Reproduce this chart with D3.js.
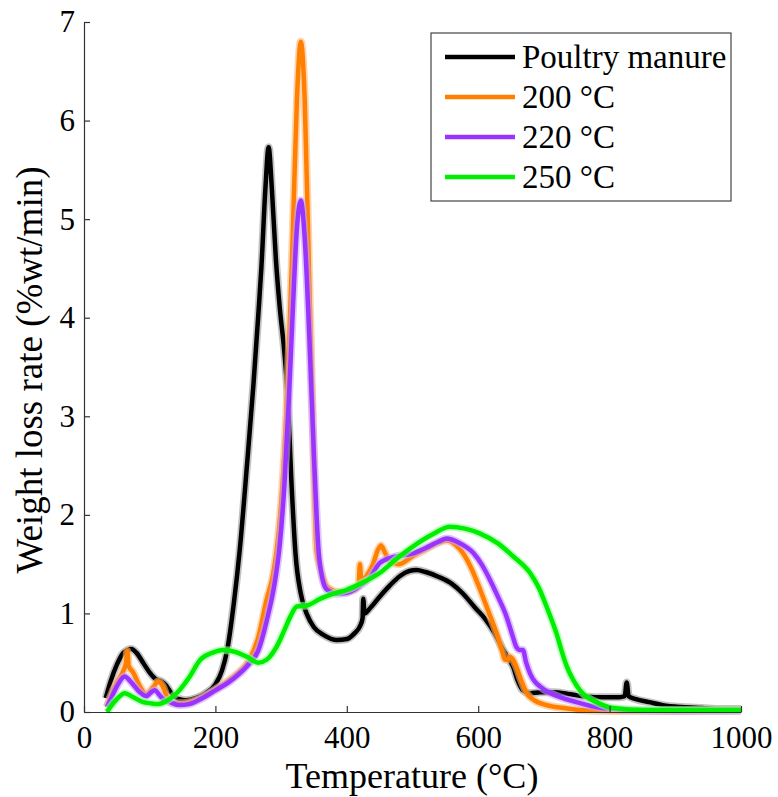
<!DOCTYPE html>
<html>
<head>
<meta charset="utf-8">
<script src="https://cdn.jsdelivr.net/npm/d3@7"></script>
<style>
  body { margin: 0; background: #fff; }
  text { font-family: "Liberation Serif", "Times New Roman", serif; fill: #000; }
</style>
</head>
<body>
<svg width="778" height="797"></svg>
<script>
// Temperature (°C) and weight loss rate (%wt/min)
const poultryT = [33, 40, 50, 60, 72, 80, 90, 100, 110, 118, 125, 135, 145, 155, 170, 185, 200, 210, 218, 228, 237, 248, 258, 265, 270, 276, 281, 286, 292, 298, 305, 310, 316, 322, 330, 340, 350, 365, 385, 400, 412, 420, 424, 425, 427, 435, 450, 465, 481, 495, 506, 520, 540, 560, 577, 595, 610, 625, 638, 648, 653, 660, 668, 679, 695, 714, 740, 760, 780, 800, 815, 823, 826, 829, 840, 860, 881, 910, 940, 970, 1000];
const poultryV = [0.14, 0.3, 0.48, 0.6, 0.64, 0.6, 0.5, 0.4, 0.33, 0.31, 0.27, 0.17, 0.13, 0.12, 0.14, 0.19, 0.28, 0.42, 0.63, 1.1, 1.64, 2.5, 3.33, 4.0, 4.51, 5.3, 5.73, 5.3, 4.6, 4.1, 3.65, 3.2, 2.3, 1.6, 1.2, 0.98, 0.86, 0.78, 0.73, 0.74, 0.8, 0.87, 0.95, 1.15, 1.0, 1.05, 1.17, 1.28, 1.38, 1.43, 1.44, 1.42, 1.37, 1.3, 1.2, 1.06, 0.95, 0.8, 0.63, 0.52, 0.46, 0.32, 0.22, 0.19, 0.2, 0.2, 0.18, 0.16, 0.15, 0.15, 0.15, 0.16, 0.3, 0.16, 0.13, 0.1, 0.07, 0.05, 0.04, 0.03, 0.03];

const t200T = [35, 40, 50, 60, 64, 66, 68, 75, 85, 95, 105, 113, 120, 127, 135, 150, 170, 185, 200, 220, 235, 250, 265, 278, 288, 296, 303, 311, 318, 324, 330, 336, 342, 348, 354, 360, 367, 374, 385, 400, 412, 418, 420, 422, 430, 440, 447, 452, 458, 466, 480, 500, 520, 540, 552, 565, 577, 590, 603, 615, 628, 636, 641, 645, 648, 652, 658, 665, 674, 685, 704, 730, 755, 800, 900, 990, 1000];
const t200V = [0.05, 0.15, 0.3, 0.42, 0.5, 0.62, 0.47, 0.4, 0.26, 0.18, 0.25, 0.31, 0.26, 0.14, 0.09, 0.09, 0.12, 0.17, 0.23, 0.32, 0.4, 0.51, 0.75, 1.14, 1.4, 1.8, 2.4, 3.5, 4.9, 6.2, 6.8, 6.2, 4.6, 3.0, 1.64, 1.45, 1.3, 1.25, 1.22, 1.22, 1.24, 1.3, 1.5, 1.33, 1.38, 1.5, 1.64, 1.69, 1.62, 1.52, 1.5, 1.58, 1.65, 1.72, 1.74, 1.7, 1.61, 1.45, 1.24, 1.03, 0.8, 0.63, 0.53, 0.53, 0.56, 0.54, 0.46, 0.33, 0.19, 0.12, 0.07, 0.04, 0.02, 0.01, 0.01, 0.015, 0.03];

const t220T = [35, 40, 50, 62, 72, 85, 95, 102, 108, 115, 122, 131, 145, 160, 180, 200, 220, 235, 250, 265, 280, 290, 298, 305, 312, 318, 324, 330, 336, 343, 350, 357, 363, 370, 385, 400, 420, 435, 450, 470, 501, 525, 540, 552, 570, 593, 605, 618, 630, 643, 652, 658, 663, 668, 673, 679, 686, 694, 710, 729, 755, 780, 830, 900, 1000];
const t220V = [0.05, 0.12, 0.26, 0.36, 0.3, 0.2, 0.16, 0.2, 0.22, 0.17, 0.12, 0.1, 0.07, 0.08, 0.14, 0.22, 0.3, 0.38, 0.48, 0.62, 0.98, 1.3, 1.7, 2.3, 3.2, 4.1, 4.9, 5.19, 4.8, 3.8, 2.6, 1.64, 1.35, 1.24, 1.2, 1.21, 1.28, 1.36, 1.51, 1.57, 1.61, 1.68, 1.73, 1.76, 1.72, 1.61, 1.5, 1.34, 1.17, 0.97, 0.78, 0.66, 0.63, 0.63, 0.5, 0.39, 0.31, 0.26, 0.19, 0.14, 0.09, 0.05, 0.02, 0.01, 0.01];

const t250T = [35, 40, 50, 62, 75, 90, 100, 111, 125, 141, 160, 177, 195, 212, 230, 248, 265, 278, 293, 305, 315, 324, 339, 360, 380, 400, 420, 450, 475, 501, 530, 557, 580, 603, 630, 653, 679, 693, 704, 712, 719, 727, 735, 745, 755, 768, 780, 805, 850, 1000];
const t250V = [0.0, 0.05, 0.13, 0.19, 0.15, 0.1, 0.09, 0.08, 0.11, 0.19, 0.35, 0.53, 0.6, 0.63, 0.61, 0.56, 0.5, 0.53, 0.66, 0.83, 0.98, 1.07, 1.08, 1.15, 1.2, 1.24, 1.3, 1.41, 1.55, 1.68, 1.8, 1.88, 1.86, 1.81, 1.71, 1.58, 1.41, 1.25, 1.07, 0.93, 0.8, 0.62, 0.46, 0.32, 0.22, 0.14, 0.1, 0.04, 0.02, 0.02];

const seriesNames = ["Poultry manure", "200 °C", "220 °C", "250 °C"];
const seriesColors = ["#000000", "#ff8000", "#9933ff", "#00ee00"];
const bandColors = ["#999999", "#ffb877", "#c9a0ff", "#99ff99"];
const xTicks = [0, 200, 400, 600, 800, 1000];
const yTicks = [0, 1, 2, 3, 4, 5, 6, 7];

const series = [
  { name: seriesNames[0], T: poultryT, V: poultryV },
  { name: seriesNames[1], T: t200T, V: t200V },
  { name: seriesNames[2], T: t220T, V: t220V },
  { name: seriesNames[3], T: t250T, V: t250V }
];

const svg = d3.select("svg");

const x = d3.scaleLinear().domain([0, 1000]).range([84, 741]);
const y = d3.scaleLinear().domain([0, 7]).range([712, 22]);

const line = d3.line()
  .x(d => x(d[0]))
  .y(d => y(d[1]))
  .curve(d3.curveMonotoneX);

const plot = svg.append("g");

series.forEach((s, i) => {
  const pts = s.T.map((t, j) => [t, s.V[j]]);
  // light error band behind the mean curve
  plot.append("path")
    .datum(pts)
    .attr("d", line)
    .attr("fill", "none")
    .attr("stroke", bandColors[i])
    .attr("stroke-width", 8)
    .attr("stroke-opacity", 0.6)
    .attr("stroke-linejoin", "round");
  plot.append("path")
    .datum(pts)
    .attr("d", line)
    .attr("fill", "none")
    .attr("stroke", seriesColors[i])
    .attr("stroke-width", 4.5)
    .attr("stroke-linejoin", "round");
});

// axes, ticks pointing inward, no box
const xAxis = svg.append("g")
  .attr("transform", "translate(0,712)")
  .call(d3.axisBottom(x).tickValues(xTicks).tickFormat(d3.format("d")).tickSize(-6).tickPadding(14).tickSizeOuter(0));
const yAxis = svg.append("g")
  .attr("transform", "translate(84,0)")
  .call(d3.axisLeft(y).tickValues(yTicks).tickFormat(d3.format("d")).tickSize(-6).tickPadding(9).tickSizeOuter(0));

[xAxis, yAxis].forEach(a => {
  a.select(".domain").attr("stroke", "#333").attr("stroke-width", 1.2);
  a.selectAll(".tick line").attr("stroke", "#333").attr("stroke-width", 1.2);
  a.selectAll(".tick text")
    .attr("font-family", "Liberation Serif")
    .attr("font-size", 31)
    .attr("fill", "#000");
});

svg.append("text")
  .attr("x", 412)
  .attr("y", 788)
  .attr("text-anchor", "middle")
  .attr("font-size", 36)
  .text("Temperature (°C)");

svg.append("text")
  .attr("transform", "translate(42,370) rotate(-90)")
  .attr("text-anchor", "middle")
  .attr("font-size", 37)
  .text("Weight loss rate (%wt/min)");

// legend
const legend = svg.append("g");
legend.append("rect")
  .attr("x", 431).attr("y", 33)
  .attr("width", 300).attr("height", 168)
  .attr("fill", "#fff")
  .attr("stroke", "#444")
  .attr("stroke-width", 1.2);

seriesNames.forEach((name, i) => {
  const cy = 57 + i * 40;
  legend.append("line")
    .attr("x1", 445).attr("x2", 515)
    .attr("y1", cy).attr("y2", cy)
    .attr("stroke", seriesColors[i])
    .attr("stroke-width", 4.5);
  legend.append("text")
    .attr("x", 522)
    .attr("y", cy + 11)
    .attr("font-size", 33)
    .text(name);
});
</script>
</body>
</html>
